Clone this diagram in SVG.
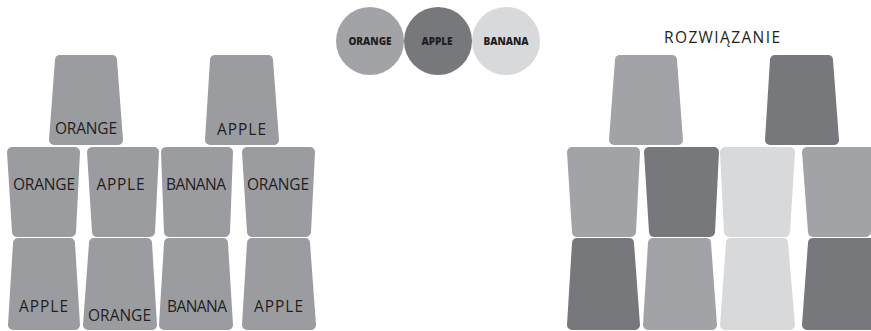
<svg xmlns="http://www.w3.org/2000/svg" width="871" height="331" viewBox="0 0 871 331">
  <style>
    .cup { stroke-width: 10; stroke-linejoin: round; }
    .g { fill: #9b9ca0; stroke: #9b9ca0; }
    .lt { fill: #a2a3a7; stroke: #a2a3a7; }
    .dk { fill: #77787c; stroke: #77787c; }
    .xl { fill: #d8d9db; stroke: #d8d9db; }
    .lbl { font-family: "Open Sans", "Liberation Sans", sans-serif; font-size: 15.5px; fill: #231f20; text-anchor: middle; }
    .key { font-family: "Open Sans", "Liberation Sans", sans-serif; font-size: 10px; font-weight: 800; fill: #231f20; text-anchor: middle; }
    .title { font-family: "Open Sans", "Liberation Sans", sans-serif; font-size: 15.5px; fill: #231f20; text-anchor: middle; }
  </style>
  <rect width="871" height="331" fill="#ffffff"/>

  <!-- Legend -->
  <g id="key-orange">
    <circle cx="370" cy="41" r="34" fill="#a2a3a7"/>
    <text class="key" x="370" y="45">ORANGE</text>
  </g>
  <g id="key-apple">
    <circle cx="438" cy="41" r="34" fill="#77787c"/>
    <text class="key" x="437" y="45">APPLE</text>
  </g>
  <g id="key-banana">
    <circle cx="506" cy="41" r="34" fill="#d8d9db"/>
    <text class="key" x="506" y="45">BANANA</text>
  </g>

  <!-- Left puzzle -->
  <g id="L-top-1"><polygon class="cup g" points="60,60 112,60 118,140 54,140"/><text class="lbl" x="86" y="134" textLength="62" lengthAdjust="spacing">ORANGE</text></g>
  <g id="L-top-2"><polygon class="cup g" points="215,60 268,60 274,140 210,140"/><text class="lbl" x="241.5" y="135" textLength="49" lengthAdjust="spacing">APPLE</text></g>

  <g id="L-mid-1"><polygon class="cup g" points="12,152 75,152 71,232 17,232"/><text class="lbl" x="44" y="190" textLength="62" lengthAdjust="spacing">ORANGE</text></g>
  <g id="L-mid-2"><polygon class="cup g" points="92,152 154,152 150,232 97,232"/><text class="lbl" x="120.5" y="190" textLength="48" lengthAdjust="spacing">APPLE</text></g>
  <g id="L-mid-3"><polygon class="cup g" points="166,152 228,152 225,232 169,232"/><text class="lbl" x="196" y="190" textLength="60" lengthAdjust="spacing">BANANA</text></g>
  <g id="L-mid-4"><polygon class="cup g" points="247,152 310,152 306,232 252,232"/><text class="lbl" x="278" y="190" textLength="62" lengthAdjust="spacing">ORANGE</text></g>

  <g id="L-bot-1"><polygon class="cup g" points="18,243 70,243 75,325 13,325"/><text class="lbl" x="43.5" y="312" textLength="49" lengthAdjust="spacing">APPLE</text></g>
  <g id="L-bot-2"><polygon class="cup g" points="94,243 147,243 152,325 88,325"/><text class="lbl" x="119.5" y="321" textLength="63" lengthAdjust="spacing">ORANGE</text></g>
  <g id="L-bot-3"><polygon class="cup g" points="169,243 223,243 228,325 164,325"/><text class="lbl" x="197" y="312" textLength="60" lengthAdjust="spacing">BANANA</text></g>
  <g id="L-bot-4"><polygon class="cup g" points="252,243 305,243 311,325 247,325"/><text class="lbl" x="278.5" y="312" textLength="49" lengthAdjust="spacing">APPLE</text></g>

  <!-- Right solution -->
  <g id="title"><text class="title" x="722" y="43" textLength="116" lengthAdjust="spacing">ROZWIĄZANIE</text></g>

  <g id="R-top-1"><polygon class="cup lt" points="620,60 672,60 678,140 614,140"/></g>
  <g id="R-top-2"><polygon class="cup dk" points="775,60 828,60 834,140 770,140"/></g>

  <g id="R-mid-1"><polygon class="cup lt" points="572,152 635,152 631,232 577,232"/></g>
  <g id="R-mid-2"><polygon class="cup dk" points="649,152 714,152 710,232 654,232"/></g>
  <g id="R-mid-3"><polygon class="cup xl" points="725,152 790,152 785,232 729,232"/></g>
  <g id="R-mid-4"><polygon class="cup lt" points="807,152 870,152 866,232 813,232"/></g>

  <g id="R-bot-1"><polygon class="cup dk" points="577,243 629,243 635,325 572,325"/></g>
  <g id="R-bot-2"><polygon class="cup lt" points="653,243 706,243 712,325 648,325"/></g>
  <g id="R-bot-3"><polygon class="cup xl" points="731,243 783,243 790,325 725,325"/></g>
  <g id="R-bot-4"><polygon class="cup dk" points="813,243 870,243 872,325 807,325"/></g>
</svg>
